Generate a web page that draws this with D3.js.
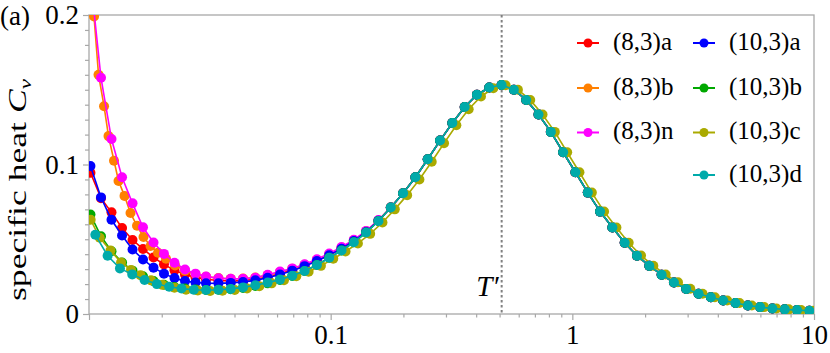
<!DOCTYPE html>
<html>
<head>
<meta charset="utf-8">
<script src="https://cdn.jsdelivr.net/npm/d3@7/dist/d3.min.js"></script>
<style>
  body { margin: 0; background: #fff; }
  svg { display: block; font-family: 'Liberation Serif', 'Times New Roman', serif; }
</style>
</head>
<body>
<svg width="830" height="353"></svg>
<script>
// temperature grids (log spaced)
const tempA = [0.01014, 0.01121, 0.01239, 0.01370, 0.01514, 0.01673, 0.01849, 0.02043, 0.02258, 0.02496,
  0.02759, 0.03049, 0.03432, 0.03859, 0.04339, 0.04879, 0.05487, 0.06170, 0.06938, 0.07801,
  0.08772, 0.09864, 0.1109, 0.1247, 0.1402, 0.1577, 0.1773, 0.1994, 0.2242, 0.2521,
  0.2835, 0.3188, 0.3585, 0.4031, 0.4533, 0.5097, 0.5731, 0.6445, 0.7247, 0.8149,
  0.9163, 1.030, 1.159, 1.303, 1.465, 1.647, 1.852, 2.083, 2.342, 2.634,
  2.961, 3.330, 3.744, 4.210, 4.734, 5.323, 5.986, 6.731, 7.569, 8.511, 9.570];
const tempB = [0.01049, 0.01095, 0.01154, 0.01204, 0.01269, 0.01325, 0.01403, 0.01485, 0.01580, 0.01681,
  0.01797, 0.01930, 0.02083, 0.02270, 0.02496, 0.02759, 0.03049, 0.03432, 0.03859, 0.04339,
  0.04879, 0.05487, 0.06170, 0.06938, 0.07801, 0.08772, 0.09864, 0.1109, 0.1247, 0.1402,
  0.1577, 0.1773, 0.1994, 0.2242, 0.2521, 0.2835, 0.3188, 0.3585, 0.4031, 0.4533,
  0.5097, 0.5731, 0.6445, 0.7247, 0.8149, 0.9163, 1.030, 1.159, 1.303, 1.465,
  1.647, 1.852, 2.083, 2.342, 2.634, 2.961, 3.330, 3.744, 4.210, 4.734,
  5.323, 5.986, 6.731, 7.569, 8.511, 9.570];
const tempC = [0.01016, 0.01108, 0.01227, 0.01357, 0.01492, 0.01633, 0.01806, 0.02014, 0.02258, 0.02520,
  0.02820, 0.03171, 0.03565, 0.04009, 0.04508, 0.05069, 0.05700, 0.06409, 0.07207, 0.08104,
  0.09113, 0.1025, 0.1152, 0.1296, 0.1457, 0.1638, 0.1842, 0.2072, 0.2329, 0.2619,
  0.2945, 0.3312, 0.3724, 0.4188, 0.4709, 0.5295, 0.5954, 0.6695, 0.7528, 0.8465,
  0.9519, 1.070, 1.204, 1.353, 1.522, 1.711, 1.924, 2.164, 2.433, 2.736,
  3.077, 3.459, 3.890, 4.374, 4.919, 5.531, 6.219, 6.993, 7.864, 8.843, 9.943];
const tempD = [0.01062, 0.01194, 0.01343, 0.01510, 0.01698, 0.01909, 0.02147, 0.02414, 0.02714, 0.03052,
  0.03432, 0.03859, 0.04339, 0.04879, 0.05487, 0.06170, 0.06938, 0.07801, 0.08772, 0.09864,
  0.1109, 0.1247, 0.1402, 0.1577, 0.1773, 0.1994, 0.2242, 0.2521, 0.2835, 0.3188,
  0.3585, 0.4031, 0.4533, 0.5097, 0.5731, 0.6445, 0.7247, 0.8149, 0.9163, 1.030,
  1.159, 1.303, 1.465, 1.647, 1.852, 2.083, 2.342, 2.634, 2.961, 3.330,
  3.744, 4.210, 4.734, 5.323, 5.986, 6.731, 7.569, 8.511, 9.570];

// above T ~ 0.17 the (8,3) and (10,3)a,b curves sit on top of each other
const highT = [0.0712, 0.0808, 0.0915, 0.1035, 0.1160, 0.1278, 0.1385, 0.1467, 0.1515, 0.1532,
  0.1500, 0.1432, 0.1335, 0.1218, 0.1082, 0.0948, 0.0812, 0.0685, 0.0578, 0.0476,
  0.0390, 0.0322, 0.0263, 0.0211, 0.0168, 0.0135, 0.0112, 0.0090, 0.0073, 0.0057,
  0.0046, 0.0037, 0.0031, 0.0026, 0.0022];

const cv83a = [0.0945, 0.0775, 0.0680, 0.0575, 0.0495, 0.0435, 0.0378, 0.0332, 0.0292, 0.0265,
  0.0245, 0.0232, 0.0224, 0.0221, 0.0223, 0.0232, 0.0248, 0.0270, 0.0295, 0.0325,
  0.0358, 0.0396, 0.0440, 0.0490, 0.0550, 0.0624].concat(highT);
const cv83b = [0.199, 0.160, 0.139, 0.119, 0.1025, 0.0890, 0.0790, 0.0675, 0.0590, 0.0515,
  0.0455, 0.0410, 0.0370, 0.0325, 0.0290, 0.0265, 0.0250, 0.0240, 0.0236, 0.0237,
  0.0244, 0.0260, 0.0280, 0.0302, 0.0330, 0.0362, 0.0400, 0.0443, 0.0493, 0.0553,
  0.0626].concat(highT);
const cv83n = [0.225, 0.158, 0.117, 0.0915, 0.0740, 0.0580, 0.0478, 0.0402, 0.0343, 0.0298,
  0.0270, 0.0251, 0.0239, 0.0235, 0.0236, 0.0243, 0.0262, 0.0284, 0.0305, 0.0333,
  0.0366, 0.0405, 0.0448, 0.0497, 0.0556, 0.0628].concat(highT);
const cv103a = [0.0990, 0.0780, 0.0630, 0.0525, 0.0432, 0.0365, 0.0310, 0.0270, 0.0240, 0.0220,
  0.0211, 0.0206, 0.0205, 0.0208, 0.0214, 0.0225, 0.0242, 0.0264, 0.0290, 0.0320,
  0.0354, 0.0393, 0.0437, 0.0488, 0.0549, 0.0624].concat(highT);
const cv103b = [0.0665, 0.0520, 0.0420, 0.0345, 0.0290, 0.0252, 0.0220, 0.0196, 0.0180, 0.0170,
  0.0164, 0.0161, 0.0162, 0.0166, 0.0174, 0.0187, 0.0205, 0.0227, 0.0255, 0.0288,
  0.0328, 0.0376, 0.0425, 0.0480, 0.0545, 0.0622].concat(highT);
const cv103c = [0.0630, 0.0510, 0.0425, 0.0345, 0.0295, 0.0260, 0.0225, 0.0195, 0.0175, 0.0163,
  0.0157, 0.0154, 0.0155, 0.0161, 0.0171, 0.0186, 0.0205, 0.0226, 0.0252, 0.0283,
  0.0322, 0.0369, 0.0418, 0.0472, 0.0536, 0.0612, 0.0700, 0.0795, 0.0900, 0.1018,
  0.1142, 0.1262, 0.1370, 0.1455, 0.1510, 0.1530, 0.1500, 0.1432, 0.1335, 0.1218,
  0.1082, 0.0948, 0.0812, 0.0686, 0.0579, 0.0477, 0.0391, 0.0323, 0.0264, 0.0212,
  0.0169, 0.0136, 0.0112, 0.0090, 0.0073, 0.0057, 0.0046, 0.0037, 0.0031, 0.0026, 0.0021];
const cv103d = [0.0530, 0.0390, 0.0305, 0.0265, 0.0228, 0.0200, 0.0182, 0.0170, 0.0162, 0.0160,
  0.0162, 0.0168, 0.0178, 0.0192, 0.0210, 0.0230, 0.0256, 0.0288, 0.0328, 0.0376,
  0.0425, 0.0480, 0.0545, 0.0622].concat(highT);

const seriesNames = ['(8,3)a', '(8,3)b', '(8,3)n', '(10,3)a', '(10,3)b', '(10,3)c', '(10,3)d'];
const tPrime = 0.51;
const xTickLabels = { 0.1: '0.1', 1: '1', 10: '10' };
const yTickLabels = { 0: '0', 0.1: '0.1', 0.2: '0.2' };

const colors = ['#ff0000', '#ff8000', '#ff00ff', '#0000ff', '#00a800', '#aaaa00', '#00aaaa'];
const series = [
  { t: tempA, cv: cv83a }, { t: tempB, cv: cv83b }, { t: tempA, cv: cv83n },
  { t: tempA, cv: cv103a }, { t: tempA, cv: cv103b }, { t: tempC, cv: cv103c },
  { t: tempD, cv: cv103d }
].map((s, i) => ({ name: seriesNames[i], color: colors[i], points: s.t.map((t, j) => [t, s.cv[j]]) }));

const svg = d3.select('svg');
const plotLeft = 89, plotRight = 814, plotTop = 15, plotBottom = 314;
const axisGray = '#a8a8a8';

const x = d3.scaleLog().domain([0.01, 10]).range([plotLeft, plotRight]);
const y = d3.scaleLinear().domain([0, 0.2]).range([plotBottom, plotTop]);

svg.append('defs').append('clipPath').attr('id', 'plot')
  .append('rect')
  .attr('x', plotLeft).attr('y', plotTop)
  .attr('width', plotRight - plotLeft).attr('height', plotBottom - plotTop);

// frame
svg.append('rect')
  .attr('x', plotLeft).attr('y', plotTop)
  .attr('width', plotRight - plotLeft).attr('height', plotBottom - plotTop)
  .attr('fill', 'none')
  .attr('stroke', axisGray)
  .attr('stroke-width', 1.3);

// x axis: majors with labels, minors short
const xMajor = [0.01, 0.1, 1, 10];
const xMinor = x.ticks().filter(d => !xMajor.some(m => Math.abs(m - d) < 1e-9));

const styleAxis = g => {
  g.select('.domain').remove();
  g.selectAll('line').attr('stroke', axisGray).attr('stroke-width', 1.2);
  g.selectAll('text').attr('fill', '#000').attr('font-size', 27)
    .attr('font-family', "'Liberation Serif', 'Times New Roman', serif");
};

svg.append('g')
  .attr('transform', `translate(0,${plotBottom})`)
  .call(d3.axisBottom(x).tickValues(xMinor).tickSize(3.5).tickFormat(''))
  .call(styleAxis);
svg.append('g')
  .attr('transform', `translate(0,${plotBottom})`)
  .call(d3.axisBottom(x).tickValues(xMajor).tickSize(6).tickPadding(5)
    .tickFormat(d => xTickLabels[d] || ''))
  .call(styleAxis);

// y axis
const yMinor = d3.range(0, 21).map(i => i / 100).filter(d => !(d in yTickLabels));
svg.append('g')
  .attr('transform', `translate(${plotLeft},0)`)
  .call(d3.axisLeft(y).tickValues(yMinor).tickSize(4).tickFormat(''))
  .call(styleAxis);
svg.append('g')
  .attr('transform', `translate(${plotLeft},0)`)
  .call(d3.axisLeft(y).tickValues([0, 0.1, 0.2]).tickSize(6).tickPadding(4)
    .tickFormat(d => yTickLabels[d]))
  .call(styleAxis);

// T' marker
svg.append('line')
  .attr('x1', x(tPrime)).attr('x2', x(tPrime))
  .attr('y1', plotTop).attr('y2', plotBottom)
  .attr('stroke', '#808080')
  .attr('stroke-width', 2)
  .attr('stroke-dasharray', '2.5,2.5');

svg.append('text')
  .attr('x', x(tPrime) - 3).attr('y', 296)
  .attr('text-anchor', 'end')
  .attr('font-size', 29)
  .attr('font-style', 'italic')
  .text('T\u2032');

// curves
const line = d3.line().x(d => x(d[0])).y(d => y(d[1]));
const plot = svg.append('g').attr('clip-path', 'url(#plot)');

series.forEach(s => {
  const g = plot.append('g');
  g.append('path')
    .attr('d', line(s.points))
    .attr('fill', 'none')
    .attr('stroke', s.color)
    .attr('stroke-width', 1.6);
  g.selectAll('circle')
    .data(s.points)
    .enter()
    .append('circle')
    .attr('cx', d => x(d[0]))
    .attr('cy', d => y(d[1]))
    .attr('r', 5)
    .attr('fill', s.color);
});

// legend
const legendCols = [577, 693];
const legendRows = [43, 88, 132.5, 175];
series.forEach((s, i) => {
  const cx = legendCols[i < 3 ? 0 : 1];
  const cy = legendRows[i < 3 ? i : i - 3];
  const g = svg.append('g').attr('transform', `translate(${cx},${cy})`);
  g.append('line').attr('x1', 0).attr('x2', 22)
    .attr('stroke', s.color).attr('stroke-width', 2);
  g.append('circle').attr('cx', 11).attr('r', 4.5).attr('fill', s.color);
  g.append('text')
    .attr('x', 36).attr('y', 6.5)
    .attr('font-size', 25)
    .text(s.name);
});

// labels
svg.append('text')
  .attr('x', 0).attr('y', 25)
  .attr('font-size', 27)
  .text('(a)');

const yTitle = svg.append('text')
  .attr('transform', 'translate(26,190) rotate(-90)')
  .attr('text-anchor', 'middle')
  .attr('font-size', 26)
  .attr('textLength', 222)
  .attr('lengthAdjust', 'spacingAndGlyphs');
yTitle.append('tspan').text('specific heat ');
yTitle.append('tspan').attr('font-style', 'italic').text('C');
yTitle.append('tspan').attr('font-style', 'italic').attr('font-size', 17).attr('dy', 5).text('v');
</script>
</body>
</html>
